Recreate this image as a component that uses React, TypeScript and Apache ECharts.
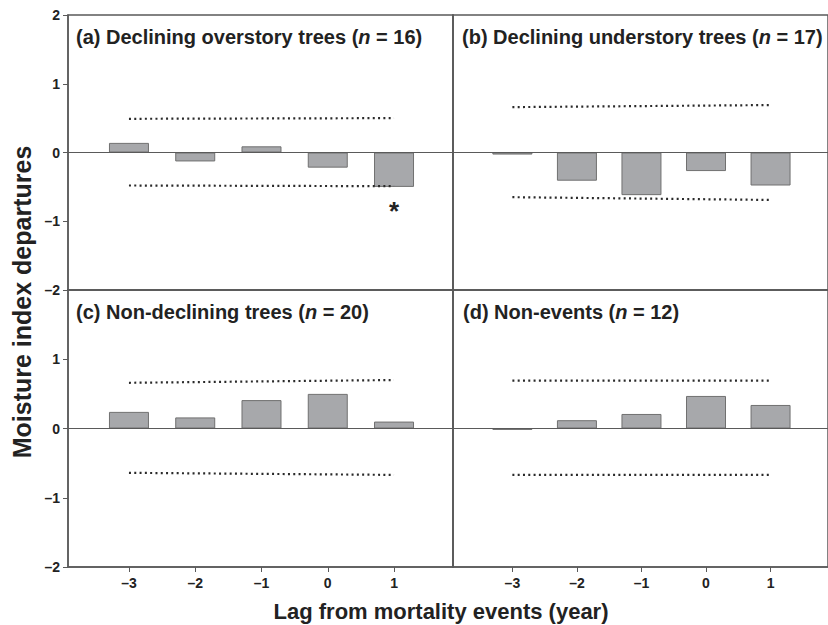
import React, { useEffect, useRef } from "react";
import * as echarts from "echarts";

const lags = [-3, -2, -1, 0, 1];
const boundLags = [-3, 1];

const panelTitles = [
  "(a) Declining overstory trees ({i|n} = 16)",
  "(b) Declining understory trees ({i|n} = 17)",
  "(c) Non-declining trees ({i|n} = 20)",
  "(d) Non-events ({i|n} = 12)",
];

const barsA = [0.14, -0.13, 0.09, -0.22, -0.5];
const barsB = [-0.03, -0.41, -0.62, -0.27, -0.48];
const barsC = [0.24, 0.16, 0.41, 0.5, 0.1];
const barsD = [-0.02, 0.12, 0.21, 0.47, 0.34];

const upperA = [0.49, 0.5];
const lowerA = [-0.48, -0.49];
const upperB = [0.66, 0.69];
const lowerB = [-0.65, -0.69];
const upperC = [0.66, 0.7];
const lowerC = [-0.64, -0.67];
const upperD = [0.69, 0.69];
const lowerD = [-0.67, -0.67];

const significantA = [false, false, false, false, true];

const FONT = "Liberation Sans, Arial, sans-serif";
const TEXT = "#222";
const AXIS = "#5a5a5a";

const fmt = (v: number) => (v < 0 ? "\u2013" + Math.abs(v) : String(v));

export default function App() {
  const ref = useRef<HTMLDivElement>(null);
  useEffect(() => {
    if (!ref.current) return;
    const chart = echarts.init(ref.current, null, { renderer: "svg" });

    const grids = [
      { left: 68, top: 15, width: 385, height: 275 },
      { left: 453, top: 15, width: 385, height: 275 },
      { left: 68, top: 290, width: 385, height: 277 },
      { left: 453, top: 290, width: 385, height: 277 },
    ].map((g) => ({
      ...g,
      show: true,
      borderColor: AXIS,
      borderWidth: 1.5,
      backgroundColor: "transparent",
      containLabel: false,
    }));

    const bars = [barsA, barsB, barsC, barsD];
    const uppers = [upperA, upperB, upperC, upperD];
    const lowers = [lowerA, lowerB, lowerC, lowerD];

    const labelText = {
      fontFamily: FONT,
      fontWeight: "bold" as const,
      fontSize: 14,
      color: TEXT,
    };

    const xAxes = [0, 1, 2, 3].map((i) => {
      const bottom = i >= 2;
      return {
        type: "value",
        gridIndex: i,
        min: -3.92,
        max: 1.89,
        axisLine: { show: true, onZero: false, lineStyle: { color: AXIS, width: 1.5 } },
        axisTick: {
          show: bottom,
          customValues: lags,
          length: 5,
          lineStyle: { color: AXIS, width: 1 },
        },
        axisLabel: {
          show: bottom,
          customValues: lags,
          formatter: (v: number) => `{t|${fmt(v)}}`,
          rich: { t: labelText },
          ...labelText,
          margin: 9,
        },
        splitLine: { show: false },
      };
    });

    const yAxes = [0, 1, 2, 3].map((i) => {
      const left = i % 2 === 0;
      const lower = i >= 2;
      return {
        type: "value",
        gridIndex: i,
        min: -2,
        max: 2,
        interval: 1,
        axisLine: { show: true, onZero: false, lineStyle: { color: AXIS, width: 1.5 } },
        axisTick: {
          show: left,
          length: 5,
          lineStyle: { color: AXIS, width: 1 },
        },
        axisLabel: {
          show: left,
          formatter: (v: number) => (lower && v === 2 ? "" : fmt(v)),
          ...labelText,
          margin: 8,
        },
        splitLine: { show: false },
      };
    });

    const series: any[] = [];
    for (let i = 0; i < 4; i++) {
      series.push({
        type: "bar",
        xAxisIndex: i,
        yAxisIndex: i,
        barWidth: 40,
        itemStyle: { color: "#a7a8ab", borderColor: "#707070", borderWidth: 1 },
        data: lags.map((x, k) => {
          const item: any = { value: [x, bars[i][k]] };
          if (i === 0 && significantA[k]) {
            item.label = {
              show: true,
              position: "bottom",
              distance: 11,
              formatter: "*",
              fontFamily: FONT,
              fontWeight: "bold",
              fontSize: 26,
              color: TEXT,
            };
          }
          return item;
        }),
        markLine: {
          silent: true,
          symbol: ["none", "none"],
          label: { show: false },
          lineStyle: { color: AXIS, type: "solid", width: 1.2 },
          data: [{ yAxis: 0 }],
        },
        z: 2,
      });
      [uppers[i], lowers[i]].forEach((b) => {
        series.push({
          type: "line",
          xAxisIndex: i,
          yAxisIndex: i,
          symbol: "none",
          lineStyle: { color: "#2a2a2a", width: 2.2, type: [2, 3.3] },
          data: boundLags.map((x, k) => [x, b[k]]),
          z: 3,
        });
      });
    }

    const titlePos = [
      { left: 76, top: 27 },
      { left: 462, top: 27 },
      { left: 76, top: 302 },
      { left: 463, top: 302 },
    ];

    const titles = panelTitles.map((t, i) => ({
      text: t,
      ...titlePos[i],
      padding: 0,
      textStyle: {
        fontFamily: FONT,
        fontWeight: "bold",
        fontSize: 20,
        color: TEXT,
        rich: {
          i: {
            fontFamily: FONT,
            fontWeight: "bold",
            fontStyle: "italic",
            fontSize: 20,
            color: TEXT,
          },
        },
      },
    }));

    chart.setOption({
      animation: false,
      backgroundColor: "#fff",
      title: titles,
      grid: grids,
      xAxis: xAxes,
      yAxis: yAxes,
      series,
      graphic: [
        {
          type: "text",
          x: 22,
          y: 302,
          rotation: Math.PI / 2,
          style: {
            text: "Moisture index departures",
            align: "center",
            verticalAlign: "middle",
            font: `bold 25px ${FONT}`,
            fill: TEXT,
          },
        },
        {
          type: "text",
          x: 441,
          y: 611,
          style: {
            text: "Lag from mortality events (year)",
            align: "center",
            verticalAlign: "middle",
            font: `bold 22px ${FONT}`,
            fill: TEXT,
          },
        },
      ],
    });
    return () => chart.dispose();
  }, []);
  return (
    <div
      ref={ref}
      style={{ position: "absolute", left: 0, top: 0, width: 828, height: 625 }}
    />
  );
}
